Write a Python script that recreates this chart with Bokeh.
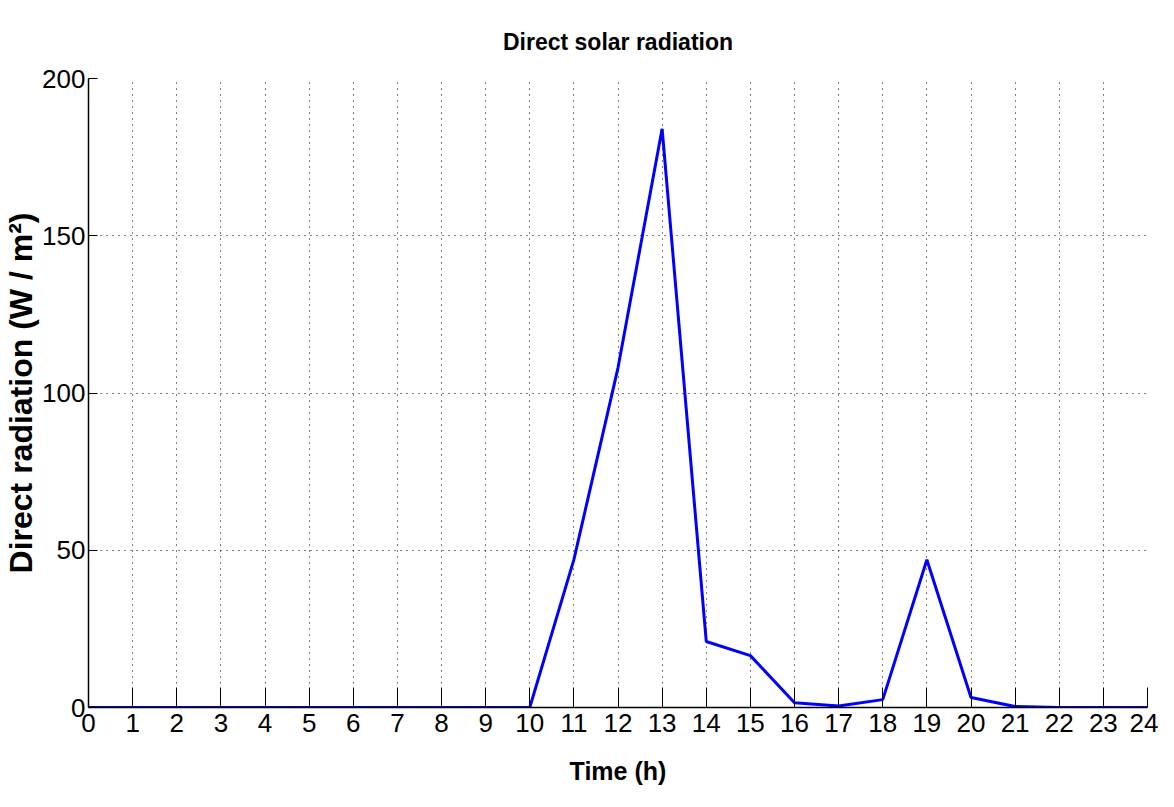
from bokeh.plotting import figure
from bokeh.models import FixedTicker, Range1d
from bokeh.embed import file_html
from bokeh.resources import INLINE

hours = list(range(0, 25))
radiation = [0, 0, 0, 0, 0, 0, 0, 0, 0, 0, 0,
             47, 108, 184, 21, 16.5, 1.5, 0.5, 2.5, 47, 3.2, 0.3,
             0, 0, 0]
x_ticks = list(range(0, 25))
y_ticks = [0, 50, 100, 150, 200]

FONT = "Liberation Sans"

p = figure(width=1158, height=791, output_backend="svg", toolbar_location=None,
           x_range=Range1d(0, 24), y_range=Range1d(0, 200),
           min_border_left=86, min_border_right=11, min_border_top=78,
           min_border_bottom=84)

p.title.text = "Direct solar radiation"
p.title.align = "center"
p.title.text_font = FONT
p.title.text_font_size = "23px"
p.title.text_font_style = "bold"
p.title.text_color = "black"
p.title.offset = 0
p.title.standoff = 47

p.line(hours, radiation, line_color="#0000ff", line_width=3)

p.outline_line_color = None

p.xaxis.ticker = FixedTicker(ticks=x_ticks)
p.yaxis.ticker = FixedTicker(ticks=y_ticks)
p.xaxis.minor_tick_line_color = None
p.yaxis.minor_tick_line_color = None
p.xaxis.major_tick_out = 0
p.xaxis.major_tick_in = 20
p.yaxis.major_tick_out = 0
p.yaxis.major_tick_in = 9
for ax in (p.xaxis, p.yaxis):
    ax.axis_line_color = "black"
    ax.axis_line_width = 1.5
    ax.major_tick_line_color = "black"
    ax.major_label_text_font = FONT
    ax.major_label_text_font_size = "26px"
    ax.major_label_text_color = "black"
    ax.axis_label_text_color = "black"
p.xaxis.major_label_standoff = 6
p.yaxis.major_label_standoff = 3

p.xaxis.axis_label = "Time (h)"
p.xaxis.axis_label_text_font = FONT
p.xaxis.axis_label_text_font_size = "25px"
p.xaxis.axis_label_text_font_style = "bold"
p.xaxis.axis_label_standoff = 22

p.yaxis.axis_label = "Direct radiation (W / m²)"
p.yaxis.axis_label_text_font = FONT
p.yaxis.axis_label_text_font_size = "32px"
p.yaxis.axis_label_text_font_style = "bold"
p.yaxis.axis_label_standoff = 0

for g in (p.xgrid, p.ygrid):
    g.grid_line_color = "black"
    g.grid_line_dash = "1 5"
    g.grid_line_alpha = 1.0

open("out.html", "w").write(file_html(p, INLINE))
